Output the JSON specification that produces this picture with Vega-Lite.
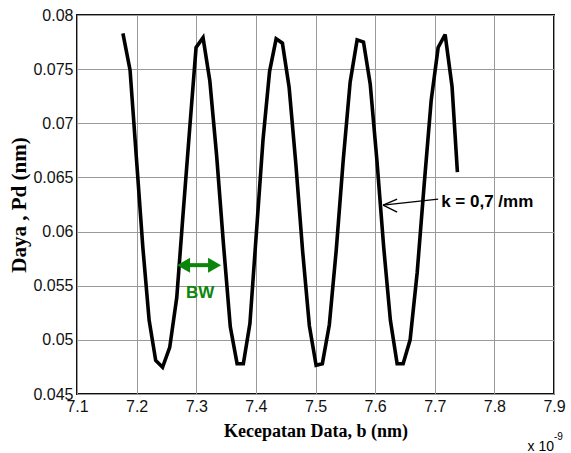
{
  "$schema": "https://vega.github.io/schema/vega-lite/v6.json",
  "autosize": {"type": "none"},
  "padding": {"left": 77, "top": 15, "right": 17, "bottom": 59},
  "width": 477,
  "height": 379,
  "background": "white",
  "config": {
    "view": {"stroke": "#111111", "strokeWidth": 2},
    "axis": {
      "grid": true,
      "gridColor": "#9a9a9a",
      "gridWidth": 1,
      "gridOpacity": 1,
      "domain": false,
      "ticks": false,
      "labelFont": "Liberation Sans, Arial, sans-serif",
      "labelFontSize": 16,
      "labelColor": "#111111",
      "titleFont": "Liberation Serif",
      "titleFontWeight": "bold",
      "titleColor": "#000000"
    }
  },
  "datasets": {
    "curve": [
      {"b": 7.177, "pd": 0.0783},
      {"b": 7.189, "pd": 0.0749},
      {"b": 7.2, "pd": 0.0665},
      {"b": 7.2105, "pd": 0.0585},
      {"b": 7.221, "pd": 0.0518},
      {"b": 7.232, "pd": 0.0481},
      {"b": 7.2435, "pd": 0.04747},
      {"b": 7.2555, "pd": 0.0493},
      {"b": 7.2673, "pd": 0.0539},
      {"b": 7.278, "pd": 0.0617},
      {"b": 7.289, "pd": 0.0695},
      {"b": 7.2997, "pd": 0.077},
      {"b": 7.3114, "pd": 0.0779},
      {"b": 7.3228, "pd": 0.0739},
      {"b": 7.3342, "pd": 0.067},
      {"b": 7.3457, "pd": 0.0588},
      {"b": 7.3571, "pd": 0.0512},
      {"b": 7.3685, "pd": 0.0478},
      {"b": 7.379, "pd": 0.0478},
      {"b": 7.39, "pd": 0.0515},
      {"b": 7.401, "pd": 0.06},
      {"b": 7.412, "pd": 0.0685},
      {"b": 7.423, "pd": 0.0748},
      {"b": 7.434, "pd": 0.0778},
      {"b": 7.4445, "pd": 0.0774},
      {"b": 7.4558, "pd": 0.0733},
      {"b": 7.4671, "pd": 0.0662},
      {"b": 7.4784, "pd": 0.0582},
      {"b": 7.4897, "pd": 0.0513},
      {"b": 7.501, "pd": 0.04765},
      {"b": 7.5115, "pd": 0.0478},
      {"b": 7.5232, "pd": 0.0514},
      {"b": 7.5348, "pd": 0.0583},
      {"b": 7.5465, "pd": 0.0666},
      {"b": 7.5581, "pd": 0.0738},
      {"b": 7.5698, "pd": 0.0777},
      {"b": 7.5805, "pd": 0.0775},
      {"b": 7.5918, "pd": 0.0736},
      {"b": 7.6031, "pd": 0.0665},
      {"b": 7.6143, "pd": 0.0586},
      {"b": 7.6256, "pd": 0.0518},
      {"b": 7.6369, "pd": 0.0478},
      {"b": 7.647, "pd": 0.0478},
      {"b": 7.6587, "pd": 0.05},
      {"b": 7.6705, "pd": 0.0562},
      {"b": 7.6822, "pd": 0.0643},
      {"b": 7.694, "pd": 0.0721},
      {"b": 7.7057, "pd": 0.077},
      {"b": 7.7174, "pd": 0.0782},
      {"b": 7.729, "pd": 0.0734},
      {"b": 7.738, "pd": 0.0655}
    ],
    "bwArrow": [
      {"b": 7.2787, "b2": 7.3307, "pd": 0.0569}
    ],
    "bwHeads": [
      {"b": 7.2787, "pd": 0.0569, "dir": "left"},
      {"b": 7.3307, "pd": 0.0569, "dir": "right"}
    ],
    "bwLabel": [
      {"b": 7.3064, "pd": 0.0543, "text": "BW"}
    ],
    "kArrow": [
      {"b": 7.6134, "pd": 0.06244, "b2": 7.7057, "pd2": 0.063},
      {"b": 7.6134, "pd": 0.06244, "b2": 7.6369, "pd2": 0.06299},
      {"b": 7.6134, "pd": 0.06244, "b2": 7.6369, "pd2": 0.06179}
    ],
    "kLabel": [
      {"b": 7.7107, "pd": 0.0627, "text": "k = 0,7 /mm"}
    ],
    "expBase": [
      {"b": 7.9, "pd": 0.0397, "text": "x 10"}
    ],
    "expPow": [
      {"b": 7.9, "pd": 0.04075, "text": "-9"}
    ]
  },
  "encoding": {
    "x": {
      "field": "b",
      "type": "quantitative",
      "scale": {"domain": [7.1, 7.9], "nice": false, "zero": false},
      "axis": {
        "title": "Kecepatan Data, b (nm)",
        "titleFontSize": 18,
        "titlePadding": 8,
        "labelPadding": 4,
        "values": [7.1, 7.2, 7.3, 7.4, 7.5, 7.6, 7.7, 7.8, 7.9],
        "format": ".1f",
        "labelFlush": false
      }
    },
    "y": {
      "field": "pd",
      "type": "quantitative",
      "scale": {"domain": [0.045, 0.08], "nice": false, "zero": false},
      "axis": {
        "title": "Daya , Pd (nm)",
        "titleFontSize": 21,
        "titlePadding": 3,
        "labelPadding": 4,
        "values": [0.045, 0.05, 0.055, 0.06, 0.065, 0.07, 0.075, 0.08],
        "format": ".3~f",
        "labelFlush": false
      }
    }
  },
  "layer": [
    {
      "data": {"name": "curve"},
      "mark": {"type": "line", "color": "#000000", "strokeWidth": 3.6, "strokeJoin": "miter", "strokeMiterLimit": 3}
    },
    {
      "data": {"name": "bwArrow"},
      "mark": {"type": "rule", "color": "#0b860b", "strokeWidth": 4},
      "encoding": {"x2": {"field": "b2"}}
    },
    {
      "data": {"name": "bwHeads"},
      "mark": {"type": "point", "filled": true, "color": "#0b860b", "size": 225, "opacity": 1},
      "encoding": {
        "shape": {
          "field": "dir",
          "type": "nominal",
          "scale": {"domain": ["left", "right"], "range": ["triangle-left", "triangle-right"]},
          "legend": null
        }
      }
    },
    {
      "data": {"name": "bwLabel"},
      "mark": {"type": "text", "color": "#0b860b", "font": "Liberation Sans, Arial, sans-serif", "fontWeight": "bold", "fontSize": 17, "align": "center", "baseline": "middle"},
      "encoding": {"text": {"field": "text"}}
    },
    {
      "data": {"name": "kArrow"},
      "mark": {"type": "rule", "color": "#000000", "strokeWidth": 1.4},
      "encoding": {"x2": {"field": "b2"}, "y2": {"field": "pd2"}}
    },
    {
      "data": {"name": "kLabel"},
      "mark": {"type": "text", "color": "#000000", "font": "Liberation Sans, Arial, sans-serif", "fontWeight": "bold", "fontSize": 17, "align": "left", "baseline": "middle"},
      "encoding": {"text": {"field": "text"}}
    },
    {
      "data": {"name": "expBase"},
      "mark": {"type": "text", "color": "#000000", "font": "Liberation Sans, Arial, sans-serif", "fontSize": 14, "align": "right", "baseline": "alphabetic", "clip": false},
      "encoding": {"text": {"field": "text"}}
    },
    {
      "data": {"name": "expPow"},
      "mark": {"type": "text", "color": "#000000", "font": "Liberation Sans, Arial, sans-serif", "fontSize": 10, "align": "left", "baseline": "alphabetic", "clip": false},
      "encoding": {"text": {"field": "text"}}
    }
  ]
}
